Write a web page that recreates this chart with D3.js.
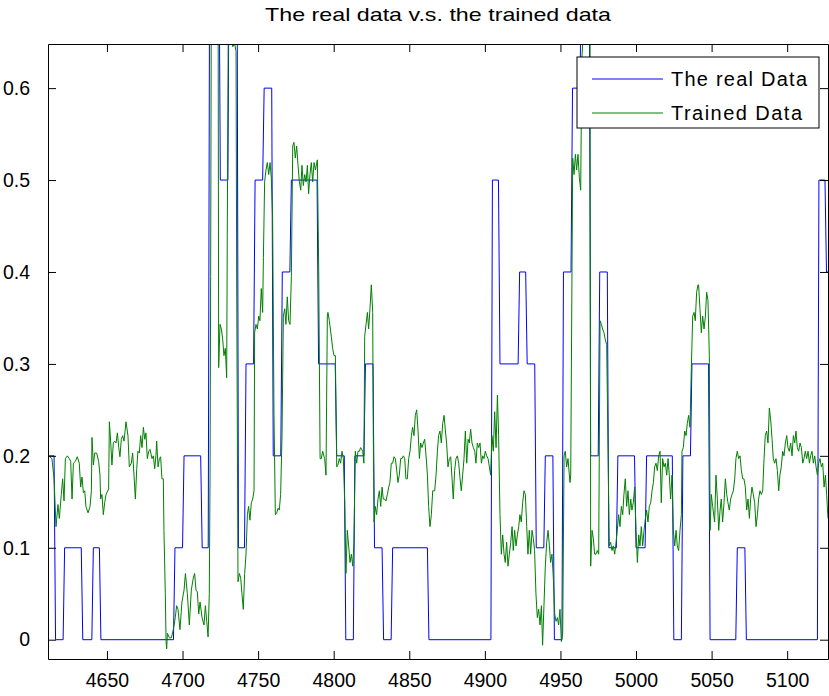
<!DOCTYPE html>
<html><head><meta charset="utf-8">
<script src="https://cdn.jsdelivr.net/npm/d3@7/dist/d3.min.js"></script>
<style>body{margin:0;background:#fff}svg{display:block}</style>
</head><body><svg id="c" width="829" height="696"></svg>
<script>
const titleText = "The real data v.s. the trained data";
const seriesNames = ["The real Data", "Trained Data"];
const xTicks = [4650,4700,4750,4800,4850,4900,4950,5000,5050,5100];
const yTicks = [0,0.1,0.2,0.3,0.4,0.5,0.6];
const yTickLabels = ["0","0.1","0.2","0.3","0.4","0.5","0.6"];

// Real data: vertices of the step-like line (x, value)
const realX = [4611,4615,4616,4621,4622,4633,4634,4640,4641,4645,4646,4694,4695,4700,4701,4712,4713,4717,4718,4724,4725,4730,4731,4736,4737,4741,4742,4747,4748,4753,4754,4759,4760,4765,4766,4771,4772,4789,4790,4801,4802,4807,4808,4813,4814,4820,4821,4826,4827,4832,4833,4838,4839,4862,4863,4904,4905,4909,4910,4922,4923,4927,4928,4933,4934,4939,4940,4945,4946,4951,4952,4957,4958,4963,4964,4969,4970,4975,4976,4981,4982,4987,4988,4999,5000,5006,5007,5024,5025,5030,5031,5036,5037,5048,5049,5066,5067,5072,5073,5120,5121,5125,5126,5127];
const realY = [0.2,0.2,0,0,0.1,0.1,0,0,0.1,0.1,0,0,0.1,0.1,0.2,0.2,0.1,0.1,0.8,0.8,0.5,0.5,0.8,0.8,0.1,0.1,0.3,0.3,0.5,0.5,0.6,0.6,0.2,0.2,0.4,0.4,0.5,0.5,0.3,0.3,0.2,0.2,0,0,0.2,0.2,0.3,0.3,0.1,0.1,0,0,0.1,0.1,0,0,0.5,0.5,0.3,0.3,0.4,0.4,0.3,0.3,0.1,0.1,0.2,0.2,0,0,0.4,0.4,0.6,0.6,0.8,0.8,0.2,0.2,0.4,0.4,0.1,0.1,0.2,0.2,0.1,0.1,0.2,0.2,0,0,0.2,0.2,0.3,0.3,0,0,0.1,0.1,0,0,0.5,0.5,0.4,0.4];

// Trained data (x, value)
const trainedX = [4611.4,4613.6,4615.0,4616.3,4617.6,4618.5,4619.8,4620.7,4621.6,4622.5,4623.8,4625.1,4626.0,4626.9,4627.8,4629.1,4630.4,4631.7,4632.6,4633.5,4634.4,4635.3,4636.1,4637.5,4638.8,4639.7,4640.1,4641.0,4641.9,4643.2,4644.5,4645.4,4645.8,4646.7,4647.6,4648.5,4649.4,4651.1,4651.6,4652.5,4653.3,4654.2,4655.1,4656.0,4656.9,4657.8,4658.6,4659.5,4660.4,4661.3,4662.6,4663.9,4664.8,4666.1,4667.0,4667.9,4668.8,4669.7,4670.5,4671.4,4672.3,4673.2,4674.1,4675.0,4675.8,4676.7,4677.6,4678.5,4679.8,4680.7,4681.6,4682.4,4682.9,4683.8,4684.7,4685.5,4686.4,4687.3,4687.7,4688.6,4689.1,4689.5,4690.0,4691.3,4692.6,4693.9,4695.2,4696.1,4697.0,
4698.3,4699.6,4701.0,4701.9,4703.2,4704.5,4705.8,4707.1,4708.0,4708.9,4709.8,4710.7,4711.6,4712.9,4714.2,4715.1,4716.0,4716.9,4717.7,4718.2,4718.6,4719.1,4721.0,4723.5,4723.9,4724.8,4725.7,4726.6,4727.4,4728.3,4729.2,4729.6,4730.5,4732.3,4733.2,4734.5,4735.4,4735.8,4736.7,4737.6,4738.5,4739.3,4740.2,4741.1,4742.0,4742.9,4743.7,4744.6,4745.5,4746.4,4747.3,4747.7,4748.6,4749.5,4750.4,4751.2,4752.1,4753.0,4753.5,4754.3,4755.2,4756.1,4757.0,4757.9,4758.7,4759.6,4760.5,4761.4,4762.3,4763.2,4764.0,4764.9,4765.8,4766.7,4767.6,4768.4,4769.3,4770.2,4771.1,4772.0,4772.9,4773.7,4774.6,4775.5,4776.4,4777.3,4778.2,4779.0,4779.9,4780.8,4781.7,4782.6,
4783.4,4784.3,4785.2,4786.1,4787.0,4787.9,4789.2,4790.1,4791.0,4791.8,4792.7,4794.0,4794.9,4795.8,4796.2,4797.1,4798.4,4799.3,4800.2,4801.1,4802.0,4802.8,4803.7,4804.6,4805.5,4806.4,4807.3,4808.1,4809.0,4809.9,4810.8,4811.7,4812.6,4813.4,4814.3,4815.2,4816.1,4817.0,4817.8,4819.2,4820.0,4820.5,4821.4,4822.3,4823.1,4824.0,4824.9,4825.8,4826.2,4826.7,4827.5,4828.4,4829.3,4830.2,4831.1,4832.0,4832.8,4833.7,4834.6,4835.5,4836.4,4837.2,4838.1,4839.0,4839.9,4840.8,4841.7,4842.5,4843.4,4844.3,4845.2,4846.1,4847.0,4847.8,4848.7,4849.6,4850.5,4851.4,4852.2,4853.1,4854.0,4854.9,4855.8,4856.7,4857.5,4858.4,4859.3,4860.2,4861.1,4862.0,4862.8,4863.7,4864.6,4865.5,4866.8,4867.7,
4868.6,4869.4,4870.3,4871.2,4872.1,4873.0,4873.9,4874.7,4875.6,4876.5,4877.4,4878.3,4879.1,4880.0,4880.9,4881.8,4882.7,4883.6,4884.4,4885.3,4886.2,4887.1,4888.0,4888.9,4889.7,4890.6,4891.5,4892.4,4893.3,4894.1,4895.0,4895.9,4896.8,4897.7,4898.6,4899.4,4900.3,4901.2,4902.1,4903.0,4903.8,4904.7,4905.6,4906.5,4907.4,4908.3,4909.1,4910.0,4910.9,4911.8,4912.7,4913.5,4914.4,4915.3,4916.2,4917.1,4918.0,4918.8,4919.7,4920.6,4921.5,4922.4,4923.2,4924.1,4925.0,4925.9,4926.8,4927.7,4928.5,4929.4,4930.3,4931.2,4932.1,4932.9,4933.8,4934.7,4935.6,4936.5,4937.4,4938.2,4939.1,4940.0,4940.9,4941.8,4942.7,4943.5,4944.4,4945.3,4946.2,4947.1,4948.0,4948.8,4949.7,4950.6,4951.5,4952.4,4953.2,4954.1,4955.0,
4956.3,4956.8,4958.1,4959.0,4959.9,4960.7,4961.6,4962.5,4963.4,4963.8,4964.3,4965.1,4967.0,4969.5,4970.0,4970.9,4971.8,4972.6,4973.5,4974.4,4975.3,4976.2,4977.1,4977.9,4978.8,4979.7,4980.6,4981.5,4982.3,4983.2,4984.1,4985.0,4985.9,4986.8,4987.6,4988.5,4989.4,4990.3,4991.2,4992.0,4992.9,4993.8,4994.7,4995.6,4996.5,4997.3,4998.2,4999.1,5000.0,5000.9,5001.8,5002.6,5003.5,5004.4,5005.3,5006.2,5007.0,5007.9,5008.8,5009.7,5010.6,5011.5,5012.3,5013.2,5014.1,5015.0,5015.9,5016.7,5017.6,5018.5,5019.4,5020.3,5021.2,5022.0,5022.9,5023.8,5024.7,5025.6,5026.5,5027.3,5028.2,5029.1,5030.0,5030.4,5031.3,5032.2,5033.1,5033.9,5034.8,5035.7,5036.6,5037.5,5038.4,5039.2,5040.1,5041.0,
5041.4,5042.3,5043.2,5044.1,5045.0,5045.9,5046.7,5047.6,5048.5,5049.0,5049.8,5050.7,5052.0,5052.9,5053.8,5054.7,5055.6,5056.4,5057.3,5058.2,5059.1,5060.0,5060.8,5061.7,5062.6,5063.5,5064.4,5065.3,5066.1,5067.0,5067.9,5068.8,5069.7,5070.6,5071.4,5072.3,5073.2,5074.1,5075.0,5075.8,5076.7,5077.6,5078.5,5079.4,5080.3,5081.1,5082.0,5082.9,5083.8,5084.7,5085.5,5086.4,5087.3,5088.2,5089.1,5090.0,5090.8,5091.7,5092.6,5093.5,5094.4,5095.2,5096.1,5097.0,5097.9,5098.8,5099.7,5100.5,5101.4,5102.3,5103.2,5104.1,5105.0,5105.8,5106.7,5107.6,5108.5,5109.4,5110.3,5111.1,5112.0,5112.9,5113.8,5114.7,5115.5,5116.4,5117.3,5118.2,5119.1,5120.0,5120.8,5121.7,5122.6,5123.5,5124.4,5125.3,5126.1,5127.0];
const trainedY = [0.200,0.197,0.175,0.123,0.147,0.132,0.158,0.175,0.151,0.197,0.200,0.197,0.194,0.153,0.192,0.194,0.199,0.192,0.166,0.177,0.160,0.162,0.145,0.138,0.145,0.162,0.220,0.190,0.203,0.203,0.194,0.179,0.153,0.158,0.136,0.149,0.158,0.164,0.237,0.214,0.190,0.214,0.216,0.214,0.225,0.209,0.199,0.218,0.222,0.216,0.237,0.222,0.188,0.192,0.203,0.179,0.153,0.186,0.205,0.203,0.222,0.209,0.231,0.218,0.225,0.197,0.205,0.207,0.197,0.200,0.186,0.200,0.216,0.188,0.197,0.199,0.175,0.175,0.119,0.050,-0.002,-0.010,0.007,0.002,0.002,0.011,0.024,0.037,0.033,
0.011,0.041,0.054,0.072,0.050,0.016,0.054,0.067,0.072,0.054,0.052,0.028,0.041,0.024,0.016,0.037,0.020,0.003,0.050,0.179,0.395,0.75,0.78,0.75,0.296,0.343,0.338,0.326,0.309,0.317,0.285,0.44,0.75,0.66,0.645,0.648,0.64,0.4,0.063,0.072,0.067,0.050,0.033,0.072,0.093,0.136,0.145,0.130,0.149,0.153,0.162,0.334,0.343,0.338,0.352,0.347,0.382,0.356,0.416,0.498,0.511,0.519,0.506,0.519,0.503,0.459,0.244,0.136,0.138,0.143,0.141,0.158,0.222,0.352,0.360,0.343,0.373,0.347,0.343,0.395,0.537,0.541,0.524,0.537,0.516,0.498,0.489,0.516,0.494,0.506,0.498,0.516,
0.485,0.506,0.519,0.498,0.519,0.511,0.522,0.40,0.197,0.197,0.205,0.197,0.179,0.352,0.356,0.347,0.330,0.317,0.309,0.309,0.188,0.190,0.197,0.192,0.205,0.197,0.149,0.072,0.119,0.102,0.084,0.093,0.080,0.106,0.205,0.192,0.205,0.205,0.209,0.205,0.192,0.330,0.343,0.356,0.338,0.360,0.386,0.356,0.222,0.128,0.145,0.136,0.153,0.162,0.145,0.166,0.153,0.153,0.151,0.158,0.166,0.171,0.192,0.192,0.199,0.197,0.184,0.171,0.179,0.197,0.197,0.200,0.197,0.175,0.175,0.197,0.205,0.222,0.231,0.222,0.244,0.250,0.227,0.197,0.214,0.209,0.214,0.218,0.200,0.179,0.145,0.123,0.136,0.162,0.162,0.179,
0.205,0.222,0.227,0.214,0.235,0.244,0.227,0.214,0.188,0.197,0.199,0.175,0.153,0.184,0.197,0.200,0.192,0.175,0.162,0.179,0.197,0.227,0.192,0.218,0.214,0.229,0.214,0.209,0.205,0.192,0.214,0.209,0.214,0.192,0.200,0.197,0.205,0.200,0.197,0.188,0.179,0.222,0.205,0.248,0.209,0.266,0.222,0.136,0.093,0.114,0.093,0.084,0.106,0.080,0.093,0.106,0.123,0.097,0.119,0.102,0.114,0.123,0.136,0.128,0.149,0.162,0.158,0.123,0.093,0.119,0.093,0.119,0.110,0.097,0.050,0.024,0.033,0.016,0.037,-0.006,0.037,0.080,0.106,0.119,0.102,0.084,0.093,0.067,0.028,0.020,0.024,0.016,0.033,-0.002,0.007,0.200,0.205,0.188,0.197,
0.171,0.179,0.524,0.506,0.528,0.511,0.528,0.503,0.489,0.567,0.636,0.66,0.75,0.75,0.080,0.119,0.110,0.093,0.093,0.097,0.093,0.347,0.343,0.338,0.334,0.326,0.321,0.205,0.102,0.106,0.097,0.102,0.093,0.106,0.119,0.136,0.123,0.145,0.136,0.158,0.175,0.145,0.162,0.136,0.153,0.141,0.149,0.166,0.119,0.084,0.114,0.102,0.123,0.102,0.119,0.132,0.141,0.128,0.145,0.149,0.162,0.171,0.188,0.192,0.184,0.200,0.205,0.149,0.197,0.188,0.192,0.179,0.197,0.179,0.153,0.179,0.119,0.102,0.119,0.102,0.097,0.119,0.136,0.205,0.209,0.227,0.222,0.235,0.244,0.231,0.296,0.352,0.356,0.347,0.378,0.386,
0.386,0.360,0.334,0.352,0.338,0.352,0.378,0.369,0.309,0.119,0.158,0.145,0.128,0.179,0.153,0.119,0.141,0.153,0.128,0.149,0.175,0.158,0.149,0.141,0.153,0.158,0.162,0.175,0.197,0.205,0.197,0.200,0.184,0.175,0.175,0.166,0.141,0.153,0.132,0.153,0.166,0.158,0.149,0.123,0.136,0.153,0.162,0.158,0.162,0.197,0.222,0.227,0.214,0.252,0.239,0.218,0.197,0.192,0.197,0.184,0.162,0.179,0.188,0.205,0.200,0.214,0.222,0.209,0.205,0.214,0.200,0.222,0.214,0.227,0.209,0.205,0.214,0.209,0.192,0.197,0.205,0.197,0.205,0.192,0.200,0.205,0.192,0.200,0.188,0.179,0.192,0.197,0.188,0.192,0.166,0.179,0.158,0.132];

const W = 829, H = 696;
const margin = {left: 48, top: 44, right: 1, bottom: 37};
const svg = d3.select("#c");
const x = d3.scaleLinear().domain([4611, 5127]).range([margin.left, W - margin.right]);
const y = d3.scaleLinear().domain([-0.021, 0.648]).range([H - margin.bottom, margin.top]);
const font = "'Liberation Sans', Arial, Helvetica, sans-serif";

svg.append("defs").append("clipPath").attr("id","clip")
  .append("rect").attr("x", margin.left).attr("y", margin.top)
  .attr("width", W - margin.right - margin.left).attr("height", H - margin.bottom - margin.top);

const realData = realX.map((d,i)=>[d, realY[i]]);
const trainedData = trainedX.map((d,i)=>[d, trainedY[i]]);
const line = d3.line().x(d=>x(d[0])).y(d=>y(d[1]));

const g = svg.append("g").attr("clip-path","url(#clip)");
g.append("path").datum(realData).attr("d", line).attr("fill","none").attr("stroke","#0000ff").attr("stroke-width",1);
g.append("path").datum(trainedData).attr("d", line).attr("fill","none").attr("stroke","#008000").attr("stroke-width",1);

// axes
const tl = 8;
const xb = d3.axisBottom(x).tickValues(xTicks).tickSizeInner(-tl).tickSizeOuter(0).tickPadding(tl+6).tickFormat(d3.format("d"));
const xt = d3.axisTop(x).tickValues(xTicks).tickSizeInner(-tl).tickSizeOuter(0).tickFormat("");
const yl = d3.axisLeft(y).tickValues(yTicks).tickSizeInner(-tl).tickSizeOuter(0).tickPadding(tl+10).tickFormat((d,i)=>yTickLabels[i]);
const yr = d3.axisRight(y).tickValues(yTicks).tickSizeInner(-tl).tickSizeOuter(0).tickFormat("");
function styleAxis(sel){
  sel.select(".domain").attr("stroke","#000");
  sel.selectAll(".tick line").attr("stroke","#000");
  sel.selectAll("text").attr("font-family", font).attr("font-size", 19.5).attr("fill","#000");
}
svg.append("g").attr("transform",`translate(0,${H-margin.bottom})`).call(xb).call(styleAxis);
svg.append("g").attr("transform",`translate(0,${margin.top})`).call(xt).call(styleAxis);
svg.append("g").attr("transform",`translate(${margin.left},0)`).call(yl).call(styleAxis);
svg.append("g").attr("transform",`translate(${W-margin.right},0)`).call(yr).call(styleAxis);

// title
svg.append("text").attr("x", 438).attr("y", 21)
  .attr("text-anchor","middle").attr("font-family", font).attr("font-size", 19)
  .attr("textLength", 346).attr("lengthAdjust","spacingAndGlyphs").text(titleText);

// legend
const lg = svg.append("g").attr("transform","translate(577,57)");
lg.append("rect").attr("width", 242).attr("height", 71).attr("fill","#fff").attr("stroke","#000");
const colors = ["#0000ff","#008000"];
const legLens = [136, 131];
seriesNames.forEach((n,i)=>{
  const yy = 22 + i*34;
  lg.append("line").attr("x1",15).attr("x2",86).attr("y1",yy).attr("y2",yy).attr("stroke",colors[i]).attr("stroke-width",1);
  lg.append("text").attr("x",94).attr("y",yy+7).attr("font-family",font).attr("font-size",20)
    .attr("textLength", legLens[i]).attr("lengthAdjust","spacing").text(n);
});
</script></body></html>
